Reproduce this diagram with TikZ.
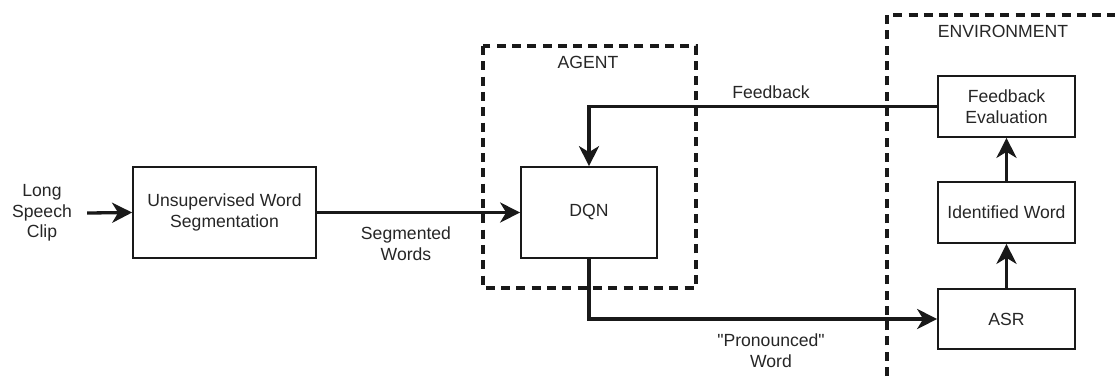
\documentclass[tikz,border=0pt]{standalone}
\usepackage{fontspec}
\setmainfont{Liberation Sans}[Ligatures=TeXOff]
\usetikzlibrary{arrows.meta}
\begin{document}
\begin{tikzpicture}[x=1pt,y=-1pt,
  every node/.style={font=\fontsize{17.6}{20.5}\selectfont, text=black!85},
  block/.style={draw=black!90, line width=1.7pt, inner sep=0pt, align=center},
  label/.style={align=center, inner sep=0pt},
  conn/.style={draw=black!90, line width=3.3pt, -{Stealth[length=20pt,width=20pt,inset=6pt]}},
  region/.style={draw=black!90, line width=3.2pt, dash pattern=on 9pt off 6.3pt}
]
\useasboundingbox (0,0) rectangle (1115,376);

% dashed regions
\draw[region] (483,46) rectangle (696,288);
\coordinate (envb) at (887,376);
\coordinate (envc) at (887,15);
\coordinate (envr) at (1117,15);
\draw[region] (envb) -- (envc) -- (envr);
\node[label] (agentlbl) at (588,62) {AGENT};
\node[label] (envlbl) at (1003,31) {ENVIRONMENT};

% blocks
\node[label, minimum width=90pt] (clip) at (42,213) {Long\\Speech\\Clip};
\node[block, minimum width=183pt, minimum height=91pt] (useg) at (224.5,212.5) {Unsupervised Word\\Segmentation};
\node[block, minimum width=136pt, minimum height=91pt] (dqn) at (589,212.5) {DQN};
\node[block, minimum width=137pt, minimum height=61pt] (fe) at (1006.5,106.5) {Feedback\\Evaluation};
\node[block, minimum width=137pt, minimum height=61pt] (iw) at (1006.5,212.5) {Identified Word};
\node[block, minimum width=137pt, minimum height=60pt] (asr) at (1006.5,319) {ASR};

% connectors
\draw[conn] (clip.east) -- (useg.west);
\draw[conn] (useg.east) -- (dqn.west);
\draw[conn] (fe.west) -| (dqn.north);
\draw[conn] (dqn.south) |- (asr.west);
\draw[conn] (asr.north) -- (iw.south);
\draw[conn] (iw.north) -- (fe.south);

% connector labels
\node[label] (seglbl) at (406,243.5) {Segmented\\Words};
\node[label] (fblbl) at (771,92) {Feedback};
\node[label] (pronlbl) at (771,350.5) {"Pronounced"\\Word};
\end{tikzpicture}
\end{document}
